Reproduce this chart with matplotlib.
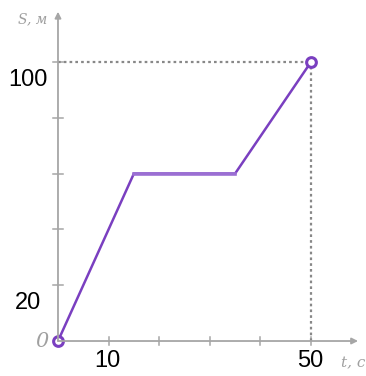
import matplotlib
matplotlib.use("Agg")
import matplotlib.pyplot as plt

# Data
t_values = [0, 15, 35, 50]
s_values = [0, 60, 60, 100]
x_ticks = [10, 20, 30, 40, 50]
y_ticks = [20, 40, 60, 80, 100]
x_tick_labels = {10: "10", 50: "50"}
y_tick_labels = {20: "20", 100: "100"}

fig = plt.figure(figsize=(3.66, 3.76), dpi=100)
ax = fig.add_axes([0, 0, 1, 1])
ax.set_xlim(-11.46, 60.87)
ax.set_ylim(-12.54, 122.2)
ax.axis("off")

axis_col = "#a6a6a6"
purple = "#7a3fc0"

# axes with arrows
ax.annotate("", xy=(59.3, 0), xytext=(0, 0),
            arrowprops=dict(arrowstyle="-|>", color=axis_col, lw=1.3,
                            mutation_scale=9, shrinkA=0, shrinkB=0))
ax.annotate("", xy=(0, 118.0), xytext=(0, 0),
            arrowprops=dict(arrowstyle="-|>", color=axis_col, lw=1.3,
                            mutation_scale=9, shrinkA=0, shrinkB=0))

# ticks
for xt in x_ticks:
    ax.plot([xt, xt], [-1.6, 1.6], color=axis_col, lw=1.1)
for yt in y_ticks:
    ax.plot([-0.9, 0.9], [yt, yt], color=axis_col, lw=1.1)

# dotted guide lines
ax.plot([0, t_values[-1]], [s_values[-1], s_values[-1]], color="#888888",
        lw=1.6, linestyle=(0, (1.2, 1.4)))
ax.plot([t_values[-1], t_values[-1]], [0, s_values[-1]], color="#888888",
        lw=1.6, linestyle=(0, (1.2, 1.4)))

# main line
ax.plot(t_values, s_values, color=purple, lw=1.8, solid_joinstyle="miter")
ax.plot(t_values[1:3], s_values[1:3], color="#9b6fd3", lw=2.6)
ax.plot([t_values[0], t_values[-1]], [s_values[0], s_values[-1]], linestyle="none",
        marker="o", markersize=7, markerfacecolor="white",
        markeredgecolor=purple, markeredgewidth=2.2)

# tick labels
for yt, lab in y_tick_labels.items():
    ax.text(-6.0, yt - 6.5, lab, fontsize=17, family="Liberation Sans",
            ha="center", va="center", color="black")
for xt, lab in x_tick_labels.items():
    ax.text(xt - 0.2, -7.0, lab, fontsize=17, family="Liberation Sans",
            ha="center", va="center", color="black")
ax.text(-3.2, -0.3, "0", fontsize=15, family="DejaVu Serif", style="italic",
        ha="center", va="center", color="#a0a0a0")

# axis labels
ax.text(-5.0, 115.4, "S, м", fontsize=10, family="DejaVu Serif", style="italic",
        ha="center", va="center", color="#a0a0a0")
ax.text(58.3, -7.9, "t, c", fontsize=11, family="DejaVu Serif", style="italic",
        ha="center", va="center", color="#a0a0a0")

fig.savefig("out.png", dpi=100)
